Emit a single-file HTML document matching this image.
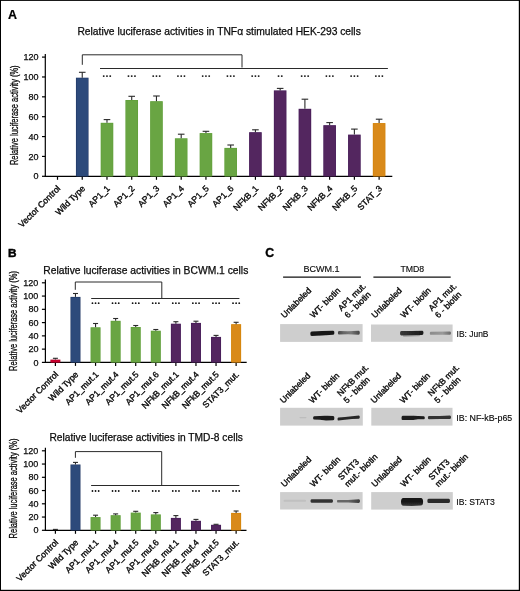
<!DOCTYPE html>
<html><head><meta charset="utf-8"><style>
html,body{margin:0;padding:0;background:#fff;overflow:hidden;}
svg{display:block;font-family:"Liberation Sans", sans-serif;will-change:transform;}
text{stroke:#000;stroke-width:0.35px;}
</style></head><body>
<svg width="520" height="591" viewBox="0 0 520 591">
<defs><filter id="bl" x="-20%" y="-50%" width="140%" height="200%"><feGaussianBlur stdDeviation="0.75"/></filter><linearGradient id="g1"><stop offset="0" stop-color="#444"/><stop offset="0.25" stop-color="#666"/><stop offset="0.6" stop-color="#7a7a7a"/><stop offset="1" stop-color="#444"/></linearGradient><linearGradient id="g2"><stop offset="0" stop-color="#8a8a8a"/><stop offset="0.6" stop-color="#999"/><stop offset="1" stop-color="#6a6a6a"/></linearGradient><linearGradient id="g3"><stop offset="0" stop-color="#666"/><stop offset="0.5" stop-color="#666"/><stop offset="1" stop-color="#3a3a3a"/></linearGradient><linearGradient id="g4"><stop offset="0" stop-color="#3a3a3a"/><stop offset="0.5" stop-color="#282828"/><stop offset="1" stop-color="#1a1a1a"/></linearGradient><linearGradient id="g5" x1="0" y1="0" x2="0" y2="1"><stop offset="0" stop-color="#111"/><stop offset="0.55" stop-color="#1a1a1a"/><stop offset="1" stop-color="#3a3a3a"/></linearGradient></defs>
<rect x="0" y="0" width="520" height="591" fill="#fff"/>
<text x="7.9" y="18.6" font-size="12.2" text-anchor="start" font-weight="bold" fill="#000" textLength="9.0" lengthAdjust="spacingAndGlyphs" style="stroke-width:0.2px">A</text>
<text x="8.1" y="257.3" font-size="11.8" text-anchor="start" font-weight="bold" fill="#000" style="stroke-width:0.45px">B</text>
<text x="265.2" y="257.4" font-size="12.3" text-anchor="start" font-weight="bold" fill="#000" style="stroke-width:0.35px">C</text>
<line x1="45.30" y1="54.00" x2="45.30" y2="176.80" stroke="#000" stroke-width="1.2"/>
<line x1="44.80" y1="176.30" x2="392.30" y2="176.30" stroke="#000" stroke-width="1.2"/>
<line x1="42.00" y1="176.30" x2="45.30" y2="176.30" stroke="#000" stroke-width="1.2"/>
<text x="38.6" y="179.4" font-size="9.0" text-anchor="end" font-weight="normal" fill="#111" style="stroke-width:0.25px">0</text>
<line x1="42.00" y1="156.43" x2="45.30" y2="156.43" stroke="#000" stroke-width="1.2"/>
<text x="38.6" y="159.53333333333333" font-size="9.0" text-anchor="end" font-weight="normal" fill="#111" style="stroke-width:0.25px">20</text>
<line x1="42.00" y1="136.57" x2="45.30" y2="136.57" stroke="#000" stroke-width="1.2"/>
<text x="38.6" y="139.66666666666666" font-size="9.0" text-anchor="end" font-weight="normal" fill="#111" style="stroke-width:0.25px">40</text>
<line x1="42.00" y1="116.70" x2="45.30" y2="116.70" stroke="#000" stroke-width="1.2"/>
<text x="38.6" y="119.80000000000001" font-size="9.0" text-anchor="end" font-weight="normal" fill="#111" style="stroke-width:0.25px">60</text>
<line x1="42.00" y1="96.83" x2="45.30" y2="96.83" stroke="#000" stroke-width="1.2"/>
<text x="38.6" y="99.93333333333332" font-size="9.0" text-anchor="end" font-weight="normal" fill="#111" style="stroke-width:0.25px">80</text>
<line x1="42.00" y1="76.97" x2="45.30" y2="76.97" stroke="#000" stroke-width="1.2"/>
<text x="38.6" y="80.06666666666665" font-size="9.0" text-anchor="end" font-weight="normal" fill="#111" style="stroke-width:0.25px">100</text>
<line x1="42.00" y1="57.10" x2="45.30" y2="57.10" stroke="#000" stroke-width="1.2"/>
<text x="38.6" y="60.20000000000001" font-size="9.0" text-anchor="end" font-weight="normal" fill="#111" style="stroke-width:0.25px">120</text>
<line x1="57.50" y1="176.30" x2="57.50" y2="179.80" stroke="#000" stroke-width="1.2"/>
<line x1="82.24" y1="176.30" x2="82.24" y2="179.80" stroke="#000" stroke-width="1.2"/>
<line x1="106.98" y1="176.30" x2="106.98" y2="179.80" stroke="#000" stroke-width="1.2"/>
<line x1="131.72" y1="176.30" x2="131.72" y2="179.80" stroke="#000" stroke-width="1.2"/>
<line x1="156.46" y1="176.30" x2="156.46" y2="179.80" stroke="#000" stroke-width="1.2"/>
<line x1="181.20" y1="176.30" x2="181.20" y2="179.80" stroke="#000" stroke-width="1.2"/>
<line x1="205.94" y1="176.30" x2="205.94" y2="179.80" stroke="#000" stroke-width="1.2"/>
<line x1="230.68" y1="176.30" x2="230.68" y2="179.80" stroke="#000" stroke-width="1.2"/>
<line x1="255.42" y1="176.30" x2="255.42" y2="179.80" stroke="#000" stroke-width="1.2"/>
<line x1="280.16" y1="176.30" x2="280.16" y2="179.80" stroke="#000" stroke-width="1.2"/>
<line x1="304.90" y1="176.30" x2="304.90" y2="179.80" stroke="#000" stroke-width="1.2"/>
<line x1="329.64" y1="176.30" x2="329.64" y2="179.80" stroke="#000" stroke-width="1.2"/>
<line x1="354.38" y1="176.30" x2="354.38" y2="179.80" stroke="#000" stroke-width="1.2"/>
<line x1="379.12" y1="176.30" x2="379.12" y2="179.80" stroke="#000" stroke-width="1.2"/>
<rect x="75.94" y="77.70" width="12.60" height="98.60" fill="#1e3462"/>
<rect x="76.49" y="78.25" width="11.50" height="98.05" fill="#2d4a7b"/>
<line x1="82.24" y1="77.70" x2="82.24" y2="72.30" stroke="#2a2a2a" stroke-width="1.1"/>
<line x1="78.94" y1="72.30" x2="85.54" y2="72.30" stroke="#2a2a2a" stroke-width="1.1"/>
<rect x="100.68" y="122.80" width="12.60" height="53.50" fill="#5f9f38"/>
<rect x="101.23" y="123.35" width="11.50" height="52.95" fill="#69a543"/>
<line x1="106.98" y1="122.80" x2="106.98" y2="119.60" stroke="#2a2a2a" stroke-width="1.1"/>
<line x1="103.68" y1="119.60" x2="110.28" y2="119.60" stroke="#2a2a2a" stroke-width="1.1"/>
<rect x="125.42" y="100.00" width="12.60" height="76.30" fill="#5f9f38"/>
<rect x="125.97" y="100.55" width="11.50" height="75.75" fill="#69a543"/>
<line x1="131.72" y1="100.00" x2="131.72" y2="96.30" stroke="#2a2a2a" stroke-width="1.1"/>
<line x1="128.42" y1="96.30" x2="135.02" y2="96.30" stroke="#2a2a2a" stroke-width="1.1"/>
<rect x="150.16" y="101.20" width="12.60" height="75.10" fill="#5f9f38"/>
<rect x="150.71" y="101.75" width="11.50" height="74.55" fill="#69a543"/>
<line x1="156.46" y1="101.20" x2="156.46" y2="96.00" stroke="#2a2a2a" stroke-width="1.1"/>
<line x1="153.16" y1="96.00" x2="159.76" y2="96.00" stroke="#2a2a2a" stroke-width="1.1"/>
<rect x="174.90" y="138.30" width="12.60" height="38.00" fill="#5f9f38"/>
<rect x="175.45" y="138.85" width="11.50" height="37.45" fill="#69a543"/>
<line x1="181.20" y1="138.30" x2="181.20" y2="134.20" stroke="#2a2a2a" stroke-width="1.1"/>
<line x1="177.90" y1="134.20" x2="184.50" y2="134.20" stroke="#2a2a2a" stroke-width="1.1"/>
<rect x="199.64" y="133.10" width="12.60" height="43.20" fill="#5f9f38"/>
<rect x="200.19" y="133.65" width="11.50" height="42.65" fill="#69a543"/>
<line x1="205.94" y1="133.10" x2="205.94" y2="131.30" stroke="#2a2a2a" stroke-width="1.1"/>
<line x1="202.64" y1="131.30" x2="209.24" y2="131.30" stroke="#2a2a2a" stroke-width="1.1"/>
<rect x="224.38" y="147.90" width="12.60" height="28.40" fill="#5f9f38"/>
<rect x="224.93" y="148.45" width="11.50" height="27.85" fill="#69a543"/>
<line x1="230.68" y1="147.90" x2="230.68" y2="145.00" stroke="#2a2a2a" stroke-width="1.1"/>
<line x1="227.38" y1="145.00" x2="233.98" y2="145.00" stroke="#2a2a2a" stroke-width="1.1"/>
<rect x="249.12" y="132.20" width="12.60" height="44.10" fill="#441a58"/>
<rect x="249.67" y="132.75" width="11.50" height="43.55" fill="#53265f"/>
<line x1="255.42" y1="132.20" x2="255.42" y2="129.80" stroke="#2a2a2a" stroke-width="1.1"/>
<line x1="252.12" y1="129.80" x2="258.72" y2="129.80" stroke="#2a2a2a" stroke-width="1.1"/>
<rect x="273.86" y="90.40" width="12.60" height="85.90" fill="#441a58"/>
<rect x="274.41" y="90.95" width="11.50" height="85.35" fill="#53265f"/>
<line x1="280.16" y1="90.40" x2="280.16" y2="88.40" stroke="#2a2a2a" stroke-width="1.1"/>
<line x1="276.86" y1="88.40" x2="283.46" y2="88.40" stroke="#2a2a2a" stroke-width="1.1"/>
<rect x="298.60" y="108.80" width="12.60" height="67.50" fill="#441a58"/>
<rect x="299.15" y="109.35" width="11.50" height="66.95" fill="#53265f"/>
<line x1="304.90" y1="108.80" x2="304.90" y2="99.20" stroke="#2a2a2a" stroke-width="1.1"/>
<line x1="301.60" y1="99.20" x2="308.20" y2="99.20" stroke="#2a2a2a" stroke-width="1.1"/>
<rect x="323.34" y="125.20" width="12.60" height="51.10" fill="#441a58"/>
<rect x="323.89" y="125.75" width="11.50" height="50.55" fill="#53265f"/>
<line x1="329.64" y1="125.20" x2="329.64" y2="122.60" stroke="#2a2a2a" stroke-width="1.1"/>
<line x1="326.34" y1="122.60" x2="332.94" y2="122.60" stroke="#2a2a2a" stroke-width="1.1"/>
<rect x="348.08" y="134.60" width="12.60" height="41.70" fill="#441a58"/>
<rect x="348.63" y="135.15" width="11.50" height="41.15" fill="#53265f"/>
<line x1="354.38" y1="134.60" x2="354.38" y2="129.10" stroke="#2a2a2a" stroke-width="1.1"/>
<line x1="351.08" y1="129.10" x2="357.68" y2="129.10" stroke="#2a2a2a" stroke-width="1.1"/>
<rect x="372.82" y="123.10" width="12.60" height="53.20" fill="#d28000"/>
<rect x="373.37" y="123.65" width="11.50" height="52.65" fill="#d98a1a"/>
<line x1="379.12" y1="123.10" x2="379.12" y2="119.20" stroke="#2a2a2a" stroke-width="1.1"/>
<line x1="375.82" y1="119.20" x2="382.42" y2="119.20" stroke="#2a2a2a" stroke-width="1.1"/>
<path d="M82.3 64.8 V54.8 H242.0 V67.5" fill="none" stroke="#2a2a2a" stroke-width="1.0" stroke-linejoin="miter"/>
<line x1="100.00" y1="68.50" x2="387.90" y2="68.50" stroke="#2a2a2a" stroke-width="1.0"/>
<circle cx="103.73" cy="76.10" r="0.95" fill="#111"/>
<circle cx="106.98" cy="76.10" r="0.95" fill="#111"/>
<circle cx="110.23" cy="76.10" r="0.95" fill="#111"/>
<circle cx="128.47" cy="76.10" r="0.95" fill="#111"/>
<circle cx="131.72" cy="76.10" r="0.95" fill="#111"/>
<circle cx="134.97" cy="76.10" r="0.95" fill="#111"/>
<circle cx="153.21" cy="76.10" r="0.95" fill="#111"/>
<circle cx="156.46" cy="76.10" r="0.95" fill="#111"/>
<circle cx="159.71" cy="76.10" r="0.95" fill="#111"/>
<circle cx="177.95" cy="76.10" r="0.95" fill="#111"/>
<circle cx="181.20" cy="76.10" r="0.95" fill="#111"/>
<circle cx="184.45" cy="76.10" r="0.95" fill="#111"/>
<circle cx="202.69" cy="76.10" r="0.95" fill="#111"/>
<circle cx="205.94" cy="76.10" r="0.95" fill="#111"/>
<circle cx="209.19" cy="76.10" r="0.95" fill="#111"/>
<circle cx="227.43" cy="76.10" r="0.95" fill="#111"/>
<circle cx="230.68" cy="76.10" r="0.95" fill="#111"/>
<circle cx="233.93" cy="76.10" r="0.95" fill="#111"/>
<circle cx="252.17" cy="76.10" r="0.95" fill="#111"/>
<circle cx="255.42" cy="76.10" r="0.95" fill="#111"/>
<circle cx="258.67" cy="76.10" r="0.95" fill="#111"/>
<circle cx="278.53" cy="76.10" r="0.95" fill="#111"/>
<circle cx="281.78" cy="76.10" r="0.95" fill="#111"/>
<circle cx="301.65" cy="76.10" r="0.95" fill="#111"/>
<circle cx="304.90" cy="76.10" r="0.95" fill="#111"/>
<circle cx="308.15" cy="76.10" r="0.95" fill="#111"/>
<circle cx="326.39" cy="76.10" r="0.95" fill="#111"/>
<circle cx="329.64" cy="76.10" r="0.95" fill="#111"/>
<circle cx="332.89" cy="76.10" r="0.95" fill="#111"/>
<circle cx="351.13" cy="76.10" r="0.95" fill="#111"/>
<circle cx="354.38" cy="76.10" r="0.95" fill="#111"/>
<circle cx="357.63" cy="76.10" r="0.95" fill="#111"/>
<circle cx="375.87" cy="76.10" r="0.95" fill="#111"/>
<circle cx="379.12" cy="76.10" r="0.95" fill="#111"/>
<circle cx="382.37" cy="76.10" r="0.95" fill="#111"/>
<text x="61.00" y="189.00" font-size="8.7" text-anchor="end" fill="#111" transform="rotate(-45 61.00 189.00)">Vector Control</text>
<text x="85.74" y="189.00" font-size="8.7" text-anchor="end" fill="#111" transform="rotate(-45 85.74 189.00)">Wild Type</text>
<text x="110.48" y="189.00" font-size="8.7" text-anchor="end" fill="#111" transform="rotate(-45 110.48 189.00)">AP1_1</text>
<text x="135.22" y="189.00" font-size="8.7" text-anchor="end" fill="#111" transform="rotate(-45 135.22 189.00)">AP1_2</text>
<text x="159.96" y="189.00" font-size="8.7" text-anchor="end" fill="#111" transform="rotate(-45 159.96 189.00)">AP1_3</text>
<text x="184.70" y="189.00" font-size="8.7" text-anchor="end" fill="#111" transform="rotate(-45 184.70 189.00)">AP1_4</text>
<text x="209.44" y="189.00" font-size="8.7" text-anchor="end" fill="#111" transform="rotate(-45 209.44 189.00)">AP1_5</text>
<text x="234.18" y="189.00" font-size="8.7" text-anchor="end" fill="#111" transform="rotate(-45 234.18 189.00)">AP1_6</text>
<text x="258.92" y="189.00" font-size="8.7" text-anchor="end" fill="#111" transform="rotate(-45 258.92 189.00)">NFkB_1</text>
<text x="283.66" y="189.00" font-size="8.7" text-anchor="end" fill="#111" transform="rotate(-45 283.66 189.00)">NFkB_2</text>
<text x="308.40" y="189.00" font-size="8.7" text-anchor="end" fill="#111" transform="rotate(-45 308.40 189.00)">NFkB_3</text>
<text x="333.14" y="189.00" font-size="8.7" text-anchor="end" fill="#111" transform="rotate(-45 333.14 189.00)">NFkB_4</text>
<text x="357.88" y="189.00" font-size="8.7" text-anchor="end" fill="#111" transform="rotate(-45 357.88 189.00)">NFkB_5</text>
<text x="382.62" y="189.00" font-size="8.7" text-anchor="end" fill="#111" transform="rotate(-45 382.62 189.00)">STAT_3</text>
<text x="17.6" y="165.1" font-size="10.6" fill="#111" transform="rotate(-90 17.6 165.1)" style="stroke-width:0.3px" textLength="99.7" lengthAdjust="spacingAndGlyphs">Relative luciferase activity (%)</text>
<text x="77.4" y="34.6" font-size="10.3" fill="#111" style="stroke-width:0.25px" textLength="283.4" lengthAdjust="spacingAndGlyphs">Relative luciferase activities in TNFα stimulated HEK-293 cells</text>
<line x1="45.40" y1="279.60" x2="45.40" y2="362.90" stroke="#000" stroke-width="1.2"/>
<line x1="44.90" y1="362.40" x2="246.70" y2="362.40" stroke="#000" stroke-width="1.2"/>
<line x1="41.90" y1="362.40" x2="45.40" y2="362.40" stroke="#000" stroke-width="1.2"/>
<text x="38.4" y="365.5" font-size="9.0" text-anchor="end" font-weight="normal" fill="#111" style="stroke-width:0.25px">0</text>
<line x1="41.90" y1="349.13" x2="45.40" y2="349.13" stroke="#000" stroke-width="1.2"/>
<text x="38.4" y="352.23333333333335" font-size="9.0" text-anchor="end" font-weight="normal" fill="#111" style="stroke-width:0.25px">20</text>
<line x1="41.90" y1="335.87" x2="45.40" y2="335.87" stroke="#000" stroke-width="1.2"/>
<text x="38.4" y="338.9666666666667" font-size="9.0" text-anchor="end" font-weight="normal" fill="#111" style="stroke-width:0.25px">40</text>
<line x1="41.90" y1="322.60" x2="45.40" y2="322.60" stroke="#000" stroke-width="1.2"/>
<text x="38.4" y="325.70000000000005" font-size="9.0" text-anchor="end" font-weight="normal" fill="#111" style="stroke-width:0.25px">60</text>
<line x1="41.90" y1="309.33" x2="45.40" y2="309.33" stroke="#000" stroke-width="1.2"/>
<text x="38.4" y="312.43333333333334" font-size="9.0" text-anchor="end" font-weight="normal" fill="#111" style="stroke-width:0.25px">80</text>
<line x1="41.90" y1="296.07" x2="45.40" y2="296.07" stroke="#000" stroke-width="1.2"/>
<text x="38.4" y="299.1666666666667" font-size="9.0" text-anchor="end" font-weight="normal" fill="#111" style="stroke-width:0.25px">100</text>
<line x1="41.90" y1="282.80" x2="45.40" y2="282.80" stroke="#000" stroke-width="1.2"/>
<text x="38.4" y="285.90000000000003" font-size="9.0" text-anchor="end" font-weight="normal" fill="#111" style="stroke-width:0.25px">120</text>
<line x1="55.40" y1="362.40" x2="55.40" y2="365.90" stroke="#000" stroke-width="1.2"/>
<line x1="75.48" y1="362.40" x2="75.48" y2="365.90" stroke="#000" stroke-width="1.2"/>
<line x1="95.56" y1="362.40" x2="95.56" y2="365.90" stroke="#000" stroke-width="1.2"/>
<line x1="115.64" y1="362.40" x2="115.64" y2="365.90" stroke="#000" stroke-width="1.2"/>
<line x1="135.72" y1="362.40" x2="135.72" y2="365.90" stroke="#000" stroke-width="1.2"/>
<line x1="155.80" y1="362.40" x2="155.80" y2="365.90" stroke="#000" stroke-width="1.2"/>
<line x1="175.88" y1="362.40" x2="175.88" y2="365.90" stroke="#000" stroke-width="1.2"/>
<line x1="195.96" y1="362.40" x2="195.96" y2="365.90" stroke="#000" stroke-width="1.2"/>
<line x1="216.04" y1="362.40" x2="216.04" y2="365.90" stroke="#000" stroke-width="1.2"/>
<line x1="236.12" y1="362.40" x2="236.12" y2="365.90" stroke="#000" stroke-width="1.2"/>
<rect x="50.40" y="359.60" width="10.00" height="2.80" fill="#b00028"/>
<rect x="50.95" y="360.15" width="8.90" height="2.25" fill="#c8002e"/>
<line x1="55.40" y1="359.60" x2="55.40" y2="358.30" stroke="#2a2a2a" stroke-width="1.1"/>
<line x1="52.90" y1="358.30" x2="57.90" y2="358.30" stroke="#2a2a2a" stroke-width="1.1"/>
<rect x="70.48" y="296.90" width="10.00" height="65.50" fill="#1e3462"/>
<rect x="71.03" y="297.45" width="8.90" height="64.95" fill="#2d4a7b"/>
<line x1="75.48" y1="296.90" x2="75.48" y2="293.50" stroke="#2a2a2a" stroke-width="1.1"/>
<line x1="72.98" y1="293.50" x2="77.98" y2="293.50" stroke="#2a2a2a" stroke-width="1.1"/>
<rect x="90.56" y="327.30" width="10.00" height="35.10" fill="#5f9f38"/>
<rect x="91.11" y="327.85" width="8.90" height="34.55" fill="#69a543"/>
<line x1="95.56" y1="327.30" x2="95.56" y2="323.50" stroke="#2a2a2a" stroke-width="1.1"/>
<line x1="93.06" y1="323.50" x2="98.06" y2="323.50" stroke="#2a2a2a" stroke-width="1.1"/>
<rect x="110.64" y="320.80" width="10.00" height="41.60" fill="#5f9f38"/>
<rect x="111.19" y="321.35" width="8.90" height="41.05" fill="#69a543"/>
<line x1="115.64" y1="320.80" x2="115.64" y2="318.50" stroke="#2a2a2a" stroke-width="1.1"/>
<line x1="113.14" y1="318.50" x2="118.14" y2="318.50" stroke="#2a2a2a" stroke-width="1.1"/>
<rect x="130.72" y="327.00" width="10.00" height="35.40" fill="#5f9f38"/>
<rect x="131.27" y="327.55" width="8.90" height="34.85" fill="#69a543"/>
<line x1="135.72" y1="327.00" x2="135.72" y2="325.50" stroke="#2a2a2a" stroke-width="1.1"/>
<line x1="133.22" y1="325.50" x2="138.22" y2="325.50" stroke="#2a2a2a" stroke-width="1.1"/>
<rect x="150.80" y="330.70" width="10.00" height="31.70" fill="#5f9f38"/>
<rect x="151.35" y="331.25" width="8.90" height="31.15" fill="#69a543"/>
<line x1="155.80" y1="330.70" x2="155.80" y2="329.50" stroke="#2a2a2a" stroke-width="1.1"/>
<line x1="153.30" y1="329.50" x2="158.30" y2="329.50" stroke="#2a2a2a" stroke-width="1.1"/>
<rect x="170.88" y="323.70" width="10.00" height="38.70" fill="#441a58"/>
<rect x="171.43" y="324.25" width="8.90" height="38.15" fill="#53265f"/>
<line x1="175.88" y1="323.70" x2="175.88" y2="321.70" stroke="#2a2a2a" stroke-width="1.1"/>
<line x1="173.38" y1="321.70" x2="178.38" y2="321.70" stroke="#2a2a2a" stroke-width="1.1"/>
<rect x="190.96" y="322.90" width="10.00" height="39.50" fill="#441a58"/>
<rect x="191.51" y="323.45" width="8.90" height="38.95" fill="#53265f"/>
<line x1="195.96" y1="322.90" x2="195.96" y2="321.20" stroke="#2a2a2a" stroke-width="1.1"/>
<line x1="193.46" y1="321.20" x2="198.46" y2="321.20" stroke="#2a2a2a" stroke-width="1.1"/>
<rect x="211.04" y="336.90" width="10.00" height="25.50" fill="#441a58"/>
<rect x="211.59" y="337.45" width="8.90" height="24.95" fill="#53265f"/>
<line x1="216.04" y1="336.90" x2="216.04" y2="335.40" stroke="#2a2a2a" stroke-width="1.1"/>
<line x1="213.54" y1="335.40" x2="218.54" y2="335.40" stroke="#2a2a2a" stroke-width="1.1"/>
<rect x="231.12" y="324.20" width="10.00" height="38.20" fill="#d28000"/>
<rect x="231.67" y="324.75" width="8.90" height="37.65" fill="#d98a1a"/>
<line x1="236.12" y1="324.20" x2="236.12" y2="322.30" stroke="#2a2a2a" stroke-width="1.1"/>
<line x1="233.62" y1="322.30" x2="238.62" y2="322.30" stroke="#2a2a2a" stroke-width="1.1"/>
<path d="M75.3 289.8 V282.0 H161.8 V298.0" fill="none" stroke="#2a2a2a" stroke-width="1.0" stroke-linejoin="miter"/>
<line x1="91.20" y1="298.50" x2="239.40" y2="298.50" stroke="#2a2a2a" stroke-width="1.0"/>
<circle cx="92.46" cy="303.20" r="0.9" fill="#111"/>
<circle cx="95.56" cy="303.20" r="0.9" fill="#111"/>
<circle cx="98.66" cy="303.20" r="0.9" fill="#111"/>
<circle cx="112.54" cy="303.20" r="0.9" fill="#111"/>
<circle cx="115.64" cy="303.20" r="0.9" fill="#111"/>
<circle cx="118.74" cy="303.20" r="0.9" fill="#111"/>
<circle cx="132.62" cy="303.20" r="0.9" fill="#111"/>
<circle cx="135.72" cy="303.20" r="0.9" fill="#111"/>
<circle cx="138.82" cy="303.20" r="0.9" fill="#111"/>
<circle cx="152.70" cy="303.20" r="0.9" fill="#111"/>
<circle cx="155.80" cy="303.20" r="0.9" fill="#111"/>
<circle cx="158.90" cy="303.20" r="0.9" fill="#111"/>
<circle cx="172.78" cy="303.20" r="0.9" fill="#111"/>
<circle cx="175.88" cy="303.20" r="0.9" fill="#111"/>
<circle cx="178.98" cy="303.20" r="0.9" fill="#111"/>
<circle cx="192.86" cy="303.20" r="0.9" fill="#111"/>
<circle cx="195.96" cy="303.20" r="0.9" fill="#111"/>
<circle cx="199.06" cy="303.20" r="0.9" fill="#111"/>
<circle cx="212.94" cy="303.20" r="0.9" fill="#111"/>
<circle cx="216.04" cy="303.20" r="0.9" fill="#111"/>
<circle cx="219.14" cy="303.20" r="0.9" fill="#111"/>
<circle cx="233.02" cy="303.20" r="0.9" fill="#111"/>
<circle cx="236.12" cy="303.20" r="0.9" fill="#111"/>
<circle cx="239.22" cy="303.20" r="0.9" fill="#111"/>
<text x="58.90" y="375.00" font-size="8.7" text-anchor="end" fill="#111" transform="rotate(-45 58.90 375.00)">Vector Control</text>
<text x="78.98" y="375.00" font-size="8.7" text-anchor="end" fill="#111" transform="rotate(-45 78.98 375.00)">Wild Type</text>
<text x="99.06" y="375.00" font-size="8.7" text-anchor="end" fill="#111" transform="rotate(-45 99.06 375.00)">AP1_mut.1</text>
<text x="119.14" y="375.00" font-size="8.7" text-anchor="end" fill="#111" transform="rotate(-45 119.14 375.00)">AP1_mut.4</text>
<text x="139.22" y="375.00" font-size="8.7" text-anchor="end" fill="#111" transform="rotate(-45 139.22 375.00)">AP1_mut.5</text>
<text x="159.30" y="375.00" font-size="8.7" text-anchor="end" fill="#111" transform="rotate(-45 159.30 375.00)">AP1_mut.6</text>
<text x="179.38" y="375.00" font-size="8.7" text-anchor="end" fill="#111" transform="rotate(-45 179.38 375.00)">NFkB_mut.1</text>
<text x="199.46" y="375.00" font-size="8.7" text-anchor="end" fill="#111" transform="rotate(-45 199.46 375.00)">NFkB_mut.4</text>
<text x="219.54" y="375.00" font-size="8.7" text-anchor="end" fill="#111" transform="rotate(-45 219.54 375.00)">NFkB_mut.5</text>
<text x="239.62" y="375.00" font-size="8.7" text-anchor="end" fill="#111" transform="rotate(-45 239.62 375.00)">STAT3_mut.</text>
<text x="17.5" y="370.9" font-size="10.6" fill="#111" transform="rotate(-90 17.5 370.9)" style="stroke-width:0.3px" textLength="99.8" lengthAdjust="spacingAndGlyphs">Relative luciferase activity (%)</text>
<text x="43.3" y="273.6" font-size="10.3" fill="#111" style="stroke-width:0.25px" textLength="205.0" lengthAdjust="spacingAndGlyphs">Relative luciferase activities in BCWM.1 cells</text>
<line x1="45.40" y1="447.80" x2="45.40" y2="530.80" stroke="#000" stroke-width="1.2"/>
<line x1="44.90" y1="530.30" x2="246.50" y2="530.30" stroke="#000" stroke-width="1.2"/>
<line x1="41.90" y1="530.30" x2="45.40" y2="530.30" stroke="#000" stroke-width="1.2"/>
<text x="38.4" y="533.4" font-size="9.0" text-anchor="end" font-weight="normal" fill="#111" style="stroke-width:0.25px">0</text>
<line x1="41.90" y1="517.05" x2="45.40" y2="517.05" stroke="#000" stroke-width="1.2"/>
<text x="38.4" y="520.15" font-size="9.0" text-anchor="end" font-weight="normal" fill="#111" style="stroke-width:0.25px">20</text>
<line x1="41.90" y1="503.80" x2="45.40" y2="503.80" stroke="#000" stroke-width="1.2"/>
<text x="38.4" y="506.9" font-size="9.0" text-anchor="end" font-weight="normal" fill="#111" style="stroke-width:0.25px">40</text>
<line x1="41.90" y1="490.55" x2="45.40" y2="490.55" stroke="#000" stroke-width="1.2"/>
<text x="38.4" y="493.65" font-size="9.0" text-anchor="end" font-weight="normal" fill="#111" style="stroke-width:0.25px">60</text>
<line x1="41.90" y1="477.30" x2="45.40" y2="477.30" stroke="#000" stroke-width="1.2"/>
<text x="38.4" y="480.40000000000003" font-size="9.0" text-anchor="end" font-weight="normal" fill="#111" style="stroke-width:0.25px">80</text>
<line x1="41.90" y1="464.05" x2="45.40" y2="464.05" stroke="#000" stroke-width="1.2"/>
<text x="38.4" y="467.15000000000003" font-size="9.0" text-anchor="end" font-weight="normal" fill="#111" style="stroke-width:0.25px">100</text>
<line x1="41.90" y1="450.80" x2="45.40" y2="450.80" stroke="#000" stroke-width="1.2"/>
<text x="38.4" y="453.90000000000003" font-size="9.0" text-anchor="end" font-weight="normal" fill="#111" style="stroke-width:0.25px">120</text>
<line x1="55.40" y1="530.30" x2="55.40" y2="533.80" stroke="#000" stroke-width="1.2"/>
<line x1="75.48" y1="530.30" x2="75.48" y2="533.80" stroke="#000" stroke-width="1.2"/>
<line x1="95.56" y1="530.30" x2="95.56" y2="533.80" stroke="#000" stroke-width="1.2"/>
<line x1="115.64" y1="530.30" x2="115.64" y2="533.80" stroke="#000" stroke-width="1.2"/>
<line x1="135.72" y1="530.30" x2="135.72" y2="533.80" stroke="#000" stroke-width="1.2"/>
<line x1="155.80" y1="530.30" x2="155.80" y2="533.80" stroke="#000" stroke-width="1.2"/>
<line x1="175.88" y1="530.30" x2="175.88" y2="533.80" stroke="#000" stroke-width="1.2"/>
<line x1="195.96" y1="530.30" x2="195.96" y2="533.80" stroke="#000" stroke-width="1.2"/>
<line x1="216.04" y1="530.30" x2="216.04" y2="533.80" stroke="#000" stroke-width="1.2"/>
<line x1="236.12" y1="530.30" x2="236.12" y2="533.80" stroke="#000" stroke-width="1.2"/>
<line x1="55.40" y1="530.30" x2="55.40" y2="529.40" stroke="#2a2a2a" stroke-width="1.1"/>
<line x1="52.90" y1="529.40" x2="57.90" y2="529.40" stroke="#2a2a2a" stroke-width="1.1"/>
<rect x="70.48" y="464.50" width="10.00" height="65.80" fill="#1e3462"/>
<rect x="71.03" y="465.05" width="8.90" height="65.25" fill="#2d4a7b"/>
<line x1="75.48" y1="464.50" x2="75.48" y2="462.40" stroke="#2a2a2a" stroke-width="1.1"/>
<line x1="72.98" y1="462.40" x2="77.98" y2="462.40" stroke="#2a2a2a" stroke-width="1.1"/>
<rect x="90.56" y="517.10" width="10.00" height="13.20" fill="#5f9f38"/>
<rect x="91.11" y="517.65" width="8.90" height="12.65" fill="#69a543"/>
<line x1="95.56" y1="517.10" x2="95.56" y2="515.20" stroke="#2a2a2a" stroke-width="1.1"/>
<line x1="93.06" y1="515.20" x2="98.06" y2="515.20" stroke="#2a2a2a" stroke-width="1.1"/>
<rect x="110.64" y="515.20" width="10.00" height="15.10" fill="#5f9f38"/>
<rect x="111.19" y="515.75" width="8.90" height="14.55" fill="#69a543"/>
<line x1="115.64" y1="515.20" x2="115.64" y2="513.90" stroke="#2a2a2a" stroke-width="1.1"/>
<line x1="113.14" y1="513.90" x2="118.14" y2="513.90" stroke="#2a2a2a" stroke-width="1.1"/>
<rect x="130.72" y="512.60" width="10.00" height="17.70" fill="#5f9f38"/>
<rect x="131.27" y="513.15" width="8.90" height="17.15" fill="#69a543"/>
<line x1="135.72" y1="512.60" x2="135.72" y2="511.30" stroke="#2a2a2a" stroke-width="1.1"/>
<line x1="133.22" y1="511.30" x2="138.22" y2="511.30" stroke="#2a2a2a" stroke-width="1.1"/>
<rect x="150.80" y="514.40" width="10.00" height="15.90" fill="#5f9f38"/>
<rect x="151.35" y="514.95" width="8.90" height="15.35" fill="#69a543"/>
<line x1="155.80" y1="514.40" x2="155.80" y2="512.60" stroke="#2a2a2a" stroke-width="1.1"/>
<line x1="153.30" y1="512.60" x2="158.30" y2="512.60" stroke="#2a2a2a" stroke-width="1.1"/>
<rect x="170.88" y="517.90" width="10.00" height="12.40" fill="#441a58"/>
<rect x="171.43" y="518.45" width="8.90" height="11.85" fill="#53265f"/>
<line x1="175.88" y1="517.90" x2="175.88" y2="515.60" stroke="#2a2a2a" stroke-width="1.1"/>
<line x1="173.38" y1="515.60" x2="178.38" y2="515.60" stroke="#2a2a2a" stroke-width="1.1"/>
<rect x="190.96" y="520.80" width="10.00" height="9.50" fill="#441a58"/>
<rect x="191.51" y="521.35" width="8.90" height="8.95" fill="#53265f"/>
<line x1="195.96" y1="520.80" x2="195.96" y2="519.40" stroke="#2a2a2a" stroke-width="1.1"/>
<line x1="193.46" y1="519.40" x2="198.46" y2="519.40" stroke="#2a2a2a" stroke-width="1.1"/>
<rect x="211.04" y="524.80" width="10.00" height="5.50" fill="#441a58"/>
<rect x="211.59" y="525.35" width="8.90" height="4.95" fill="#53265f"/>
<line x1="216.04" y1="524.80" x2="216.04" y2="524.30" stroke="#2a2a2a" stroke-width="1.1"/>
<line x1="213.54" y1="524.30" x2="218.54" y2="524.30" stroke="#2a2a2a" stroke-width="1.1"/>
<rect x="231.12" y="512.90" width="10.00" height="17.40" fill="#d28000"/>
<rect x="231.67" y="513.45" width="8.90" height="16.85" fill="#d98a1a"/>
<line x1="236.12" y1="512.90" x2="236.12" y2="511.00" stroke="#2a2a2a" stroke-width="1.1"/>
<line x1="233.62" y1="511.00" x2="238.62" y2="511.00" stroke="#2a2a2a" stroke-width="1.1"/>
<path d="M75.4 457.8 V451.6 H161.7 V485.3" fill="none" stroke="#2a2a2a" stroke-width="1.0" stroke-linejoin="miter"/>
<line x1="91.10" y1="485.50" x2="239.30" y2="485.50" stroke="#2a2a2a" stroke-width="1.0"/>
<circle cx="92.46" cy="491.00" r="0.9" fill="#111"/>
<circle cx="95.56" cy="491.00" r="0.9" fill="#111"/>
<circle cx="98.66" cy="491.00" r="0.9" fill="#111"/>
<circle cx="112.54" cy="491.00" r="0.9" fill="#111"/>
<circle cx="115.64" cy="491.00" r="0.9" fill="#111"/>
<circle cx="118.74" cy="491.00" r="0.9" fill="#111"/>
<circle cx="132.62" cy="491.00" r="0.9" fill="#111"/>
<circle cx="135.72" cy="491.00" r="0.9" fill="#111"/>
<circle cx="138.82" cy="491.00" r="0.9" fill="#111"/>
<circle cx="152.70" cy="491.00" r="0.9" fill="#111"/>
<circle cx="155.80" cy="491.00" r="0.9" fill="#111"/>
<circle cx="158.90" cy="491.00" r="0.9" fill="#111"/>
<circle cx="172.78" cy="491.00" r="0.9" fill="#111"/>
<circle cx="175.88" cy="491.00" r="0.9" fill="#111"/>
<circle cx="178.98" cy="491.00" r="0.9" fill="#111"/>
<circle cx="192.86" cy="491.00" r="0.9" fill="#111"/>
<circle cx="195.96" cy="491.00" r="0.9" fill="#111"/>
<circle cx="199.06" cy="491.00" r="0.9" fill="#111"/>
<circle cx="212.94" cy="491.00" r="0.9" fill="#111"/>
<circle cx="216.04" cy="491.00" r="0.9" fill="#111"/>
<circle cx="219.14" cy="491.00" r="0.9" fill="#111"/>
<circle cx="233.02" cy="491.00" r="0.9" fill="#111"/>
<circle cx="236.12" cy="491.00" r="0.9" fill="#111"/>
<circle cx="239.22" cy="491.00" r="0.9" fill="#111"/>
<text x="58.90" y="543.00" font-size="8.7" text-anchor="end" fill="#111" transform="rotate(-45 58.90 543.00)">Vector Control</text>
<text x="78.98" y="543.00" font-size="8.7" text-anchor="end" fill="#111" transform="rotate(-45 78.98 543.00)">Wild Type</text>
<text x="99.06" y="543.00" font-size="8.7" text-anchor="end" fill="#111" transform="rotate(-45 99.06 543.00)">AP1_mut.1</text>
<text x="119.14" y="543.00" font-size="8.7" text-anchor="end" fill="#111" transform="rotate(-45 119.14 543.00)">AP1_mut.4</text>
<text x="139.22" y="543.00" font-size="8.7" text-anchor="end" fill="#111" transform="rotate(-45 139.22 543.00)">AP1_mut.5</text>
<text x="159.30" y="543.00" font-size="8.7" text-anchor="end" fill="#111" transform="rotate(-45 159.30 543.00)">AP1_mut.6</text>
<text x="179.38" y="543.00" font-size="8.7" text-anchor="end" fill="#111" transform="rotate(-45 179.38 543.00)">NFkB_mut.1</text>
<text x="199.46" y="543.00" font-size="8.7" text-anchor="end" fill="#111" transform="rotate(-45 199.46 543.00)">NFkB_mut.4</text>
<text x="219.54" y="543.00" font-size="8.7" text-anchor="end" fill="#111" transform="rotate(-45 219.54 543.00)">NFkB_mut.5</text>
<text x="239.62" y="543.00" font-size="8.7" text-anchor="end" fill="#111" transform="rotate(-45 239.62 543.00)">STAT3_mut.</text>
<text x="17.5" y="538.4" font-size="10.6" fill="#111" transform="rotate(-90 17.5 538.4)" style="stroke-width:0.3px" textLength="99.8" lengthAdjust="spacingAndGlyphs">Relative luciferase activity (%)</text>
<text x="49.5" y="440.9" font-size="10.3" fill="#111" style="stroke-width:0.25px" textLength="193.3" lengthAdjust="spacingAndGlyphs">Relative luciferase activities in TMD-8 cells</text>
<text x="303.4" y="272.3" font-size="9.0" text-anchor="start" font-weight="normal" fill="#111" textLength="36.2" lengthAdjust="spacingAndGlyphs" style="stroke-width:0.15px">BCWM.1</text>
<text x="400.4" y="271.9" font-size="9.0" text-anchor="start" font-weight="normal" fill="#111" textLength="23.8" lengthAdjust="spacingAndGlyphs" style="stroke-width:0.15px">TMD8</text>
<line x1="283.10" y1="277.10" x2="360.90" y2="277.10" stroke="#111" stroke-width="1.2"/>
<line x1="373.40" y1="277.20" x2="450.70" y2="277.20" stroke="#111" stroke-width="1.2"/>
<rect x="280.1" y="324.1" width="82.50" height="17.80" fill="#cecece"/>
<path d="M311.71 331.40 L322.00 331.10 L333.17 330.70 Q334.40 330.70 334.40 332.75 Q334.40 334.80 333.17 334.80 L322.00 335.60 L311.71 336.10 Q310.30 336.10 310.30 333.75 Q310.30 331.40 311.71 331.40 Z" fill="#181818" filter="url(#bl)"/>
<path d="M339.01 330.90 L348.00 331.20 L358.57 330.70 Q359.80 330.70 359.80 332.75 Q359.80 334.80 358.57 334.80 L348.00 334.30 L339.01 334.60 Q337.90 334.60 337.90 332.75 Q337.90 330.90 339.01 330.90 Z" fill="url(#g1)" filter="url(#bl)"/>
<rect x="371.0" y="324.5" width="81.60" height="17.30" fill="#cecece"/>
<path d="M403.87 334.20 L419.31 334.00 Q420.00 334.00 420.00 335.15 Q420.00 336.30 419.31 336.30 L403.87 337.10 Q403.00 337.10 403.00 335.65 Q403.00 334.20 403.87 334.20 Z" fill="#a8a8a8" filter="url(#bl)"/>
<path d="M401.35 331.10 L412.00 331.00 L422.24 330.70 Q423.50 330.70 423.50 332.80 Q423.50 334.90 422.24 334.90 L412.00 335.30 L401.35 335.60 Q400.00 335.60 400.00 333.35 Q400.00 331.10 401.35 331.10 Z" fill="url(#g4)" filter="url(#bl)"/>
<path d="M430.70 331.70 L450.04 331.50 Q451.00 331.50 451.00 333.10 Q451.00 334.70 450.04 334.70 L430.70 334.70 Q429.80 334.70 429.80 333.20 Q429.80 331.70 430.70 331.70 Z" fill="url(#g2)" filter="url(#bl)"/>
<rect x="280.1" y="407.8" width="82.70" height="17.80" fill="#cecece"/>
<path d="M299.92 416.90 L306.08 416.90 Q306.50 416.90 306.50 417.60 Q306.50 418.30 306.08 418.30 L299.92 418.30 Q299.50 418.30 299.50 417.60 Q299.50 416.90 299.92 416.90 Z" fill="#bdbdbd" filter="url(#bl)"/>
<path d="M314.09 416.30 L320.00 416.00 L326.00 415.70 L333.08 415.90 Q334.40 415.90 334.40 418.10 Q334.40 420.30 333.08 420.30 L326.00 420.60 L320.00 419.80 L314.09 419.60 Q313.10 419.60 313.10 417.95 Q313.10 416.30 314.09 416.30 Z" fill="#1a1a1a" filter="url(#bl)"/>
<path d="M338.43 417.40 L345.00 416.90 L352.00 416.20 L358.84 415.50 Q359.80 415.50 359.80 417.10 Q359.80 418.70 358.84 418.70 L352.00 419.10 L345.00 419.70 L338.43 420.50 Q337.50 420.50 337.50 418.95 Q337.50 417.40 338.43 417.40 Z" fill="#262626" filter="url(#bl)"/>
<rect x="371.3" y="407.8" width="81.20" height="17.80" fill="#cecece"/>
<path d="M402.82 415.70 L413.00 415.70 L418.00 416.10 L423.90 416.20 Q424.80 416.20 424.80 417.70 Q424.80 419.20 423.90 419.20 L418.00 419.20 L413.00 419.90 L402.82 420.10 Q401.50 420.10 401.50 417.90 Q401.50 415.70 402.82 415.70 Z" fill="#1a1a1a" filter="url(#bl)"/>
<path d="M428.86 416.00 L440.00 416.00 L449.95 415.50 Q451.00 415.50 451.00 417.25 Q451.00 419.00 449.95 419.00 L440.00 418.90 L428.86 419.20 Q427.90 419.20 427.90 417.60 Q427.90 416.00 428.86 416.00 Z" fill="#303030" filter="url(#bl)"/>
<rect x="280.1" y="492.1" width="82.50" height="17.40" fill="#cecece"/>
<path d="M284.20 499.80 L305.40 499.80 Q306.00 499.80 306.00 500.80 Q306.00 501.80 305.40 501.80 L284.20 501.80 Q283.60 501.80 283.60 500.80 Q283.60 499.80 284.20 499.80 Z" fill="#c0c0c0" filter="url(#bl)"/>
<path d="M311.58 499.20 L331.92 499.20 Q333.00 499.20 333.00 501.00 Q333.00 502.80 331.92 502.80 L311.58 502.80 Q310.50 502.80 310.50 501.00 Q310.50 499.20 311.58 499.20 Z" fill="#333" filter="url(#bl)"/>
<path d="M337.78 500.00 L348.00 499.90 L358.92 499.30 Q360.00 499.30 360.00 501.10 Q360.00 502.90 358.92 502.90 L348.00 502.60 L337.78 502.60 Q337.00 502.60 337.00 501.30 Q337.00 500.00 337.78 500.00 Z" fill="url(#g3)" filter="url(#bl)"/>
<rect x="371.2" y="492.1" width="81.60" height="17.50" fill="#cecece"/>
<path d="M403.37 497.90 L412.00 497.90 L420.79 497.90 Q423.10 497.90 423.10 501.75 Q423.10 505.60 420.79 505.60 L412.00 505.90 L403.37 505.80 Q401.00 505.80 401.00 501.85 Q401.00 497.90 403.37 497.90 Z" fill="url(#g5)" filter="url(#bl)"/>
<path d="M428.59 498.80 L448.71 498.80 Q450.00 498.80 450.00 500.95 Q450.00 503.10 448.71 503.10 L428.59 503.10 Q427.30 503.10 427.30 500.95 Q427.30 498.80 428.59 498.80 Z" fill="#2a2a2a" filter="url(#bl)"/>
<text x="456.6" y="337.4" font-size="8.6" text-anchor="start" font-weight="normal" fill="#111" textLength="31.9" lengthAdjust="spacingAndGlyphs" style="stroke-width:0.15px">IB: JunB</text>
<text x="456.3" y="420.9" font-size="8.6" text-anchor="start" font-weight="normal" fill="#111" textLength="56.0" lengthAdjust="spacingAndGlyphs" style="stroke-width:0.15px">IB: NF-kB-p65</text>
<text x="456.3" y="505.3" font-size="8.6" text-anchor="start" font-weight="normal" fill="#111" textLength="38.5" lengthAdjust="spacingAndGlyphs" style="stroke-width:0.15px">IB: STAT3</text>
<text x="284.50" y="318.50" font-size="8.6" fill="#111" transform="rotate(-45 284.50 318.50)">Unlabeled</text>
<text x="313.50" y="318.50" font-size="8.6" fill="#111" transform="rotate(-45 313.50 318.50)">WT- biotin</text>
<text x="341.50" y="311.50" font-size="8.6" fill="#111" transform="rotate(-45 341.50 311.50)">AP1 mut.</text>
<text x="348.00" y="318.50" font-size="8.6" fill="#111" transform="rotate(-45 348.00 318.50)">6 - biotin</text>
<text x="375.10" y="318.50" font-size="8.6" fill="#111" transform="rotate(-45 375.10 318.50)">Unlabeled</text>
<text x="404.10" y="318.50" font-size="8.6" fill="#111" transform="rotate(-45 404.10 318.50)">WT- biotin</text>
<text x="432.10" y="311.50" font-size="8.6" fill="#111" transform="rotate(-45 432.10 311.50)">AP1 mut.</text>
<text x="438.60" y="318.50" font-size="8.6" fill="#111" transform="rotate(-45 438.60 318.50)">6 - biotin</text>
<text x="283.50" y="403.70" font-size="8.6" fill="#111" transform="rotate(-45 283.50 403.70)">Unlabeled</text>
<text x="312.50" y="403.70" font-size="8.6" fill="#111" transform="rotate(-45 312.50 403.70)">WT- biotin</text>
<text x="340.50" y="396.70" font-size="8.6" fill="#111" transform="rotate(-45 340.50 396.70)">NFkB mut.</text>
<text x="347.00" y="403.70" font-size="8.6" fill="#111" transform="rotate(-45 347.00 403.70)">5 - biotin</text>
<text x="374.30" y="403.70" font-size="8.6" fill="#111" transform="rotate(-45 374.30 403.70)">Unlabeled</text>
<text x="403.30" y="403.70" font-size="8.6" fill="#111" transform="rotate(-45 403.30 403.70)">WT- biotin</text>
<text x="431.30" y="396.70" font-size="8.6" fill="#111" transform="rotate(-45 431.30 396.70)">NFkB mut.</text>
<text x="437.80" y="403.70" font-size="8.6" fill="#111" transform="rotate(-45 437.80 403.70)">5 - biotin</text>
<text x="284.50" y="487.50" font-size="8.6" fill="#111" transform="rotate(-45 284.50 487.50)">Unlabeled</text>
<text x="313.50" y="487.50" font-size="8.6" fill="#111" transform="rotate(-45 313.50 487.50)">WT- biotin</text>
<text x="341.50" y="480.50" font-size="8.6" fill="#111" transform="rotate(-45 341.50 480.50)">STAT3</text>
<text x="348.00" y="487.50" font-size="8.6" fill="#111" transform="rotate(-45 348.00 487.50)">mut.- biotin</text>
<text x="375.10" y="487.50" font-size="8.6" fill="#111" transform="rotate(-45 375.10 487.50)">Unlabeled</text>
<text x="404.10" y="487.50" font-size="8.6" fill="#111" transform="rotate(-45 404.10 487.50)">WT- biotin</text>
<text x="432.10" y="480.50" font-size="8.6" fill="#111" transform="rotate(-45 432.10 480.50)">STAT3</text>
<text x="438.60" y="487.50" font-size="8.6" fill="#111" transform="rotate(-45 438.60 487.50)">mut.- biotin</text>
<rect x="0" y="0" width="1" height="591" fill="#000"/>
<rect x="0" y="0" width="520" height="0.9" fill="#000"/>
<rect x="518.8" y="0" width="1.2" height="591" fill="#000"/>
<rect x="0" y="589.8" width="520" height="1.2" fill="#000"/>
</svg>
</body></html>
